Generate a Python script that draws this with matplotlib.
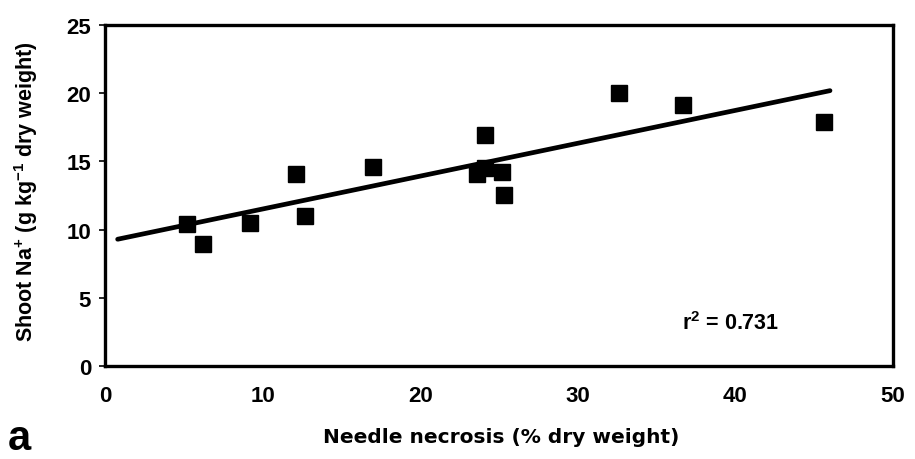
import matplotlib
matplotlib.use("Agg")
import matplotlib.pyplot as plt
import numpy as np

plt.rcParams['font.family'] = ['Liberation Sans', 'DejaVu Sans']
plt.rcParams['font.weight'] = 'bold'
plt.rcParams['mathtext.fontset'] = 'custom'
plt.rcParams['mathtext.bf'] = 'Liberation Sans:bold'
plt.rcParams['mathtext.rm'] = 'Liberation Sans:bold'
plt.rcParams['mathtext.it'] = 'Liberation Sans:bold'

# Data
necrosis = [5.2, 6.2, 9.2, 12.1, 12.7, 17.0, 23.6, 24.1, 24.1, 25.2, 25.3, 32.6, 36.7, 45.6]
shoot_na = [10.4, 8.95, 10.5, 14.1, 11.0, 14.6, 14.1, 14.5, 16.9, 14.2, 12.5, 20.0, 19.1, 17.9]

fit_intercept = 9.1
fit_slope = 0.241
fit_x_range = [0.8, 46.0]

x_ticks = [0, 10, 20, 30, 40, 50]
y_ticks = [0, 5, 10, 15, 20, 25]
r2_text = "r$^{2}$ = 0.731"

fig = plt.figure(figsize=(9.15, 4.6), dpi=100)
ax = fig.add_axes([0.1148, 0.2022, 0.8612, 0.7413])

fx = np.array(fit_x_range)
ax.plot(fx, fit_intercept + fit_slope * fx, color='black', lw=3.4, solid_capstyle='round', zorder=2)
ax.plot(necrosis, shoot_na, linestyle='none', marker='s', markersize=12,
        color='black', zorder=3)

ax.set_xlim(0, 50)
ax.set_ylim(0, 25)
ax.set_xticks(x_ticks)
ax.set_yticks(y_ticks)
ax.tick_params(axis='x', length=0, pad=14, labelsize=16)
ax.tick_params(axis='y', length=4, width=1.2, direction='out', pad=6, labelsize=16)
for lab in ax.get_xticklabels() + ax.get_yticklabels():
    lab.set_fontweight('heavy')
for s in ax.spines.values():
    s.set_linewidth(2.4)

ax.text(36.6, 3.15, r2_text, fontsize=15.5, fontweight='bold', va='center', ha='left')

fig.text(0.548, 0.048, "Needle necrosis (% dry weight)", ha='center', va='center',
         fontsize=14.5, fontweight='bold', family=['DejaVu Sans'])
fig.text(0.028, 0.583, "Shoot Na$^{+}$ (g kg$^{-1}$ dry weight)", ha='center', va='center',
         rotation=90, fontsize=15.5, fontweight='bold')
fig.text(0.021, 0.045, "a", ha='center', va='center', fontsize=30, fontweight='bold')

fig.savefig("out.png", dpi=100)
